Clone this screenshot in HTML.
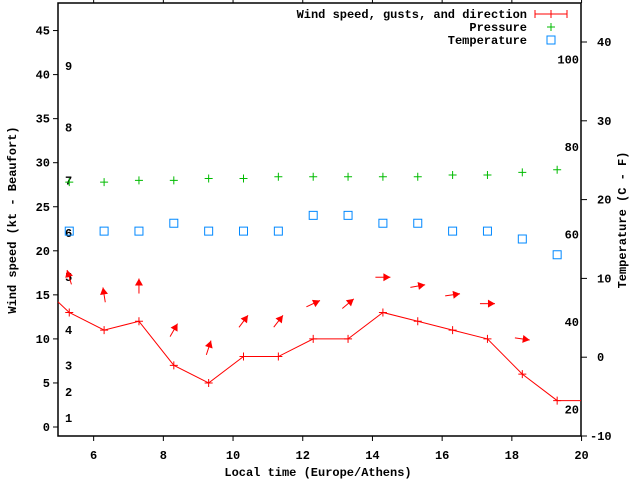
<!DOCTYPE html>
<html><head><meta charset="utf-8"><style>
body{margin:0;background:#fff}
svg text{font-family:"Liberation Mono",monospace;font-weight:bold;font-size:12px;fill:#000}
</style></head><body>
<svg width="640" height="480" id="c">
<rect x="58" y="3" width="523" height="433" fill="none" stroke="#000" stroke-width="1.5"/>
<text x="16" y="220" transform="rotate(-90 16 220)" text-anchor="middle">Wind speed (kt - Beaufort)</text>
<text x="626" y="220" transform="rotate(-90 626 220)" text-anchor="middle">Temperature (C - F)</text>
<text x="318" y="476" text-anchor="middle">Local time (Europe/Athens)</text>
<g>
<text x="527" y="18" text-anchor="end">Wind speed, gusts, and direction</text>
<line x1="535" y1="14" x2="567" y2="14" stroke="#f00"/><line x1="535" y1="10" x2="535" y2="18" stroke="#f00"/><line x1="567" y1="10" x2="567" y2="18" stroke="#f00"/><line x1="551" y1="10" x2="551" y2="18" stroke="#f00"/>
<text x="527" y="31" text-anchor="end">Pressure</text>
<path d="M547 27h8M551 23v8" stroke="#0b0" />
<text x="527" y="44" text-anchor="end">Temperature</text>
<rect x="547" y="36" width="8" height="8" fill="none" stroke="#08f"/>
</g>
<g id="g"></g>
</svg>
<script>
const times=[5.3,6.3,7.3,8.3,9.3,10.3,11.3,12.3,13.3,14.3,15.3,16.3,17.3,18.3,19.3];
const windSpeed=[13,11,12,7,5,8,8,10,10,13,12,11,10,6,3];
const gusts=[17,15,16,11,9,12,12,14,14,17,16,15,14,10,null];
const directionDeg=[107,99,90,60,72,53,52,25,40,0,10,8,0,-8,null];
const pressure=[27.8,27.8,28.0,28.0,28.2,28.2,28.4,28.4,28.4,28.4,28.4,28.6,28.6,28.9,29.2];
const temperature=[16,16,16,17,16,16,16,18,18,17,17,16,16,15,13];
const xTicks=[6,8,10,12,14,16,18,20];
const yTicks=[0,5,10,15,20,25,30,35,40,45];
const cTicks=[-10,0,10,20,30,40];
const fTicks=[20,40,60,80,100];
const beaufort=[1,4,7,11,17,22,28,34,41];
const X=t=>58.8+(t-5)*34.85;
const Y=v=>427-v*8.81;
const YC=c=>436-(c+10)*7.88;
const ns="http://www.w3.org/2000/svg",g=document.getElementById('g');
function mk(tag,a,txt){const e=document.createElementNS(ns,tag);for(const k in a)e.setAttribute(k,a[k]);if(txt!==undefined)e.textContent=txt;g.appendChild(e);return e;}
xTicks.forEach(t=>{const x=X(t);
 const l=mk('line',{x1:x,y1:436,x2:x,y2:441,stroke:'#000'});
 
 
 const l2=mk('line',{x1:x,y1:3,x2:x,y2:-2,stroke:'#000'});
 
 
 const tx=mk('text',{x:x,y:459,'text-anchor':'middle'},t);
 
 });
yTicks.forEach(v=>{const y=Y(v);
 const l=mk('line',{x1:53,y1:y,x2:58,y2:y,stroke:'#000'});
 
 
 const tx=mk('text',{x:50,y:y+4,'text-anchor':'end'},v);
 
 });
cTicks.forEach(c=>{const y=YC(c);
 const l=mk('line',{x1:581,y1:y,x2:587,y2:y,stroke:'#000'});
 
 
 const tx=mk('text',{x:c<0?590:597,y:y+4},c);
 
 });
fTicks.forEach(f=>{const y=YC((f-32)*5/9);
 const tx=mk('text',{x:579,y:y+4,'text-anchor':'end'},f);
 
 });
beaufort.forEach((k,i)=>{const tx=mk('text',{x:65,y:Y(k)+4},i+1);
 
 });
// wind line
let pts=[[58,Y(14.2)]].concat(times.map((t,i)=>[X(t),Y(windSpeed[i])]));
pts.push([581,Y(windSpeed[windSpeed.length-1])]);
const pl=mk('polyline',{points:pts.map(p=>p.join(',')).join(' '),fill:'none',stroke:'#f00'});


times.forEach((t,i)=>{const x=X(t),y=Y(windSpeed[i]);
 const p=mk('path',{d:`M${x-4} ${y}h8M${x} ${y-4}v8`,stroke:'#f00'});
 
 
 const yp=Y(pressure[i]);
 const q=mk('path',{d:`M${x-4} ${yp}h8M${x} ${yp-4}v8`,stroke:'#0b0'});
 
 
 const yt=YC(temperature[i]);
 const r=mk('rect',{x:x-4,y:yt-4,width:8,height:8,fill:'none',stroke:'#08f'});
 
 
 if(gusts[i]!=null){const a=directionDeg[i]*Math.PI/180,L=7.5,cx=x,cy=Y(gusts[i]);
  const dx=Math.cos(a)*L,dy=-Math.sin(a)*L,hx=cx+dx,hy=cy+dy;
  const ar=mk('g',{});
  
  
  const ln=document.createElementNS(ns,'line');
  ln.setAttribute('x1',cx-dx);ln.setAttribute('y1',cy-dy);ln.setAttribute('x2',hx);ln.setAttribute('y2',hy);ln.setAttribute('stroke','#f00');
  ar.appendChild(ln);
  const ux=Math.cos(a),uy=-Math.sin(a),px=-uy,py=ux,h=7,w=4;
  const hp=document.createElementNS(ns,'polygon');
  hp.setAttribute('points',`${hx},${hy} ${hx-ux*h+px*w},${hy-uy*h+py*w} ${hx-ux*h-px*w},${hy-uy*h-py*w}`);
  hp.setAttribute('fill','#f00');
  ar.appendChild(hp);}
});
</script>
</body></html>
